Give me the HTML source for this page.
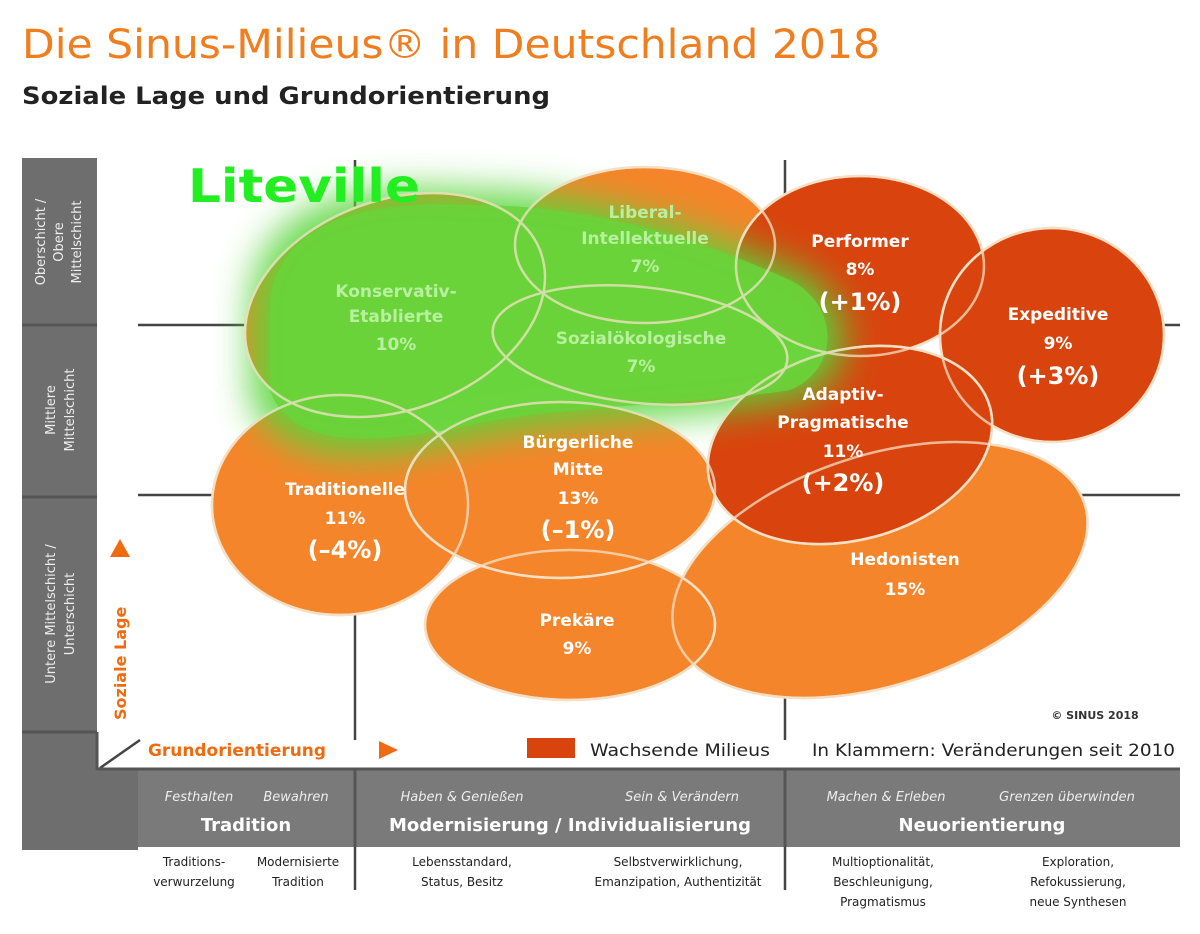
<!DOCTYPE html>
<html><head><meta charset="utf-8"><style>
body{margin:0;background:#fff;width:1200px;height:929px;overflow:hidden}
</style></head><body>
<svg width="1200" height="929" viewBox="0 0 1200 929" xmlns="http://www.w3.org/2000/svg" font-family="DejaVu Sans, Liberation Sans, sans-serif">
<defs>
<filter id="blur" x="-30%" y="-30%" width="160%" height="160%"><feGaussianBlur stdDeviation="18"/></filter>
</defs>
<text x="22" y="58" font-size="40" fill="#f07d1e" textLength="858" lengthAdjust="spacingAndGlyphs">Die Sinus-Milieus® in Deutschland 2018</text>
<text x="22" y="104" font-size="24" font-weight="bold" fill="#222" textLength="528" lengthAdjust="spacingAndGlyphs">Soziale Lage und Grundorientierung</text>

<rect x="22" y="158" width="75" height="692" fill="#6e6e6e"/>
<rect x="22" y="770" width="116" height="80" fill="#6e6e6e"/>
<rect x="138" y="770" width="1042" height="77" fill="#7a7a7a"/>
<g stroke="#555" stroke-width="3"><line x1="22" y1="325" x2="97" y2="325"/><line x1="22" y1="497" x2="97" y2="497"/><line x1="22" y1="732" x2="97" y2="732"/><line x1="355" y1="770" x2="355" y2="847"/><line x1="785" y1="770" x2="785" y2="847"/></g>
<g fill="#eee" font-size="13" text-anchor="middle">
<text transform="translate(45,242) rotate(-90)">Oberschicht /</text>
<text transform="translate(63,242) rotate(-90)">Obere</text>
<text transform="translate(81,242) rotate(-90)">Mittelschicht</text>
<text transform="translate(55,410) rotate(-90)">Mittlere</text>
<text transform="translate(74,410) rotate(-90)">Mittelschicht</text>
<text transform="translate(55,614) rotate(-90)">Untere Mittelschicht /</text>
<text transform="translate(74,614) rotate(-90)">Unterschicht</text>
</g>
<g stroke="#444" stroke-width="2.5">
<line x1="138" y1="325" x2="1180" y2="325"/><line x1="138" y1="495" x2="1180" y2="495"/>
<line x1="355" y1="160" x2="355" y2="740"/><line x1="785" y1="160" x2="785" y2="740"/>
<line x1="355" y1="847" x2="355" y2="890"/><line x1="785" y1="847" x2="785" y2="890"/>
<line x1="100" y1="768" x2="140" y2="740"/>
</g>
<line x1="97" y1="769" x2="1180" y2="769" stroke="#555" stroke-width="3"/>
<line x1="97" y1="732" x2="97" y2="770" stroke="#555" stroke-width="3"/>

<g stroke="#f8dcc0" stroke-width="2.5">
<ellipse cx="880" cy="570" rx="215" ry="115" transform="rotate(-18 880 570)" fill="#f5852a"/>
<ellipse cx="570" cy="625" rx="145" ry="75" fill="#f5852a"/>
<ellipse cx="340" cy="505" rx="128" ry="110" fill="#f5852a"/>
<ellipse cx="560" cy="490" rx="155" ry="88" fill="#f5852a"/>
<ellipse cx="645" cy="245" rx="130" ry="78" fill="#f5852a"/>
<ellipse cx="860" cy="266" rx="124" ry="90" fill="#d9440e"/>
<ellipse cx="1052" cy="335" rx="112" ry="107" fill="#d9440e"/>
<ellipse cx="850" cy="445" rx="145" ry="95" transform="rotate(-15 850 445)" fill="#d9440e"/>
<ellipse cx="640" cy="345" rx="148" ry="58" transform="rotate(6 640 345)" fill="#f5852a"/>
<ellipse cx="395" cy="305" rx="155" ry="105" transform="rotate(-20 395 305)" fill="#f5852a"/>
</g>
<path d="M250 300 C260 200 360 180 470 190 C600 190 700 230 800 270 C860 300 860 380 800 400 C700 420 560 420 470 440 C380 460 280 470 250 400 Z" fill="#59d63a" opacity="0.9" filter="url(#blur)"/>
<path d="M270 300 C280 220 370 200 470 205 C600 205 700 240 790 280 C840 305 840 370 790 390 C700 405 560 405 470 425 C380 445 290 450 270 390 Z" fill="#6ad43a" opacity="0.85"/>
<g fill="none" stroke="#f4e2c8" stroke-width="2.5" opacity="0.75">
<ellipse cx="880" cy="570" rx="215" ry="115" transform="rotate(-18 880 570)"/>
<ellipse cx="570" cy="625" rx="145" ry="75"/>
<ellipse cx="340" cy="505" rx="128" ry="110"/>
<ellipse cx="560" cy="490" rx="155" ry="88"/>
<ellipse cx="645" cy="245" rx="130" ry="78"/>
<ellipse cx="860" cy="266" rx="124" ry="90"/>
<ellipse cx="1052" cy="335" rx="112" ry="107"/>
<ellipse cx="850" cy="445" rx="145" ry="95" transform="rotate(-15 850 445)"/>
<ellipse cx="640" cy="345" rx="148" ry="58" transform="rotate(6 640 345)"/>
<ellipse cx="395" cy="305" rx="155" ry="105" transform="rotate(-20 395 305)"/>
</g>
<text x="188" y="202" font-size="46" font-weight="bold" fill="#22ee22" textLength="232" lengthAdjust="spacingAndGlyphs">Liteville</text>

<g font-weight="bold" text-anchor="middle" font-size="17">
<g fill="#b8f0a0"><text x="396" y="297">Konservativ-</text><text x="396" y="322">Etablierte</text><text x="396" y="350">10%</text>
<text x="645" y="218">Liberal-</text><text x="645" y="244">Intellektuelle</text><text x="645" y="272">7%</text>
<text x="641" y="344">Sozialökologische</text><text x="641" y="372">7%</text></g>
<g fill="#fff"><text x="860" y="247">Performer</text><text x="860" y="275">8%</text><text x="860" y="310" font-size="24">(+1%)</text>
<text x="1058" y="320">Expeditive</text><text x="1058" y="349">9%</text><text x="1058" y="384" font-size="24">(+3%)</text>
<text x="843" y="400">Adaptiv-</text><text x="843" y="428">Pragmatische</text><text x="843" y="457">11%</text><text x="843" y="491" font-size="24">(+2%)</text>
<text x="578" y="448">Bürgerliche</text><text x="578" y="475">Mitte</text><text x="578" y="504">13%</text><text x="578" y="538" font-size="24">(–1%)</text>
<text x="345" y="495">Traditionelle</text><text x="345" y="524">11%</text><text x="345" y="558" font-size="24">(–4%)</text>
<text x="577" y="626">Prekäre</text><text x="577" y="654">9%</text>
<text x="905" y="565">Hedonisten</text><text x="905" y="595">15%</text></g>
</g>
<text x="1095" y="719" font-size="11" font-weight="bold" fill="#333" text-anchor="middle">© SINUS 2018</text>

<polygon points="110,557 130,557 120,539" fill="#f06a10"/>
<text transform="translate(126,720) rotate(-90)" font-size="16" font-weight="bold" fill="#f06a10">Soziale Lage</text>
<text x="148" y="756" font-size="17" font-weight="bold" fill="#f06a10" textLength="178" lengthAdjust="spacingAndGlyphs">Grundorientierung</text>
<polygon points="379,741 379,759 398,750" fill="#f06a10"/>
<rect x="527" y="738" width="48" height="20" fill="#d9440e"/>
<text x="590" y="756" font-size="17" fill="#222" textLength="180" lengthAdjust="spacingAndGlyphs">Wachsende Milieus</text>
<text x="812" y="756" font-size="17" fill="#222" textLength="363" lengthAdjust="spacingAndGlyphs">In Klammern: Veränderungen seit 2010</text>

<g fill="#eee" font-size="13" font-style="italic" text-anchor="middle">
<text x="199" y="801">Festhalten</text><text x="296" y="801">Bewahren</text>
<text x="462" y="801">Haben &amp; Genießen</text><text x="682" y="801">Sein &amp; Verändern</text>
<text x="886" y="801">Machen &amp; Erleben</text><text x="1067" y="801">Grenzen überwinden</text>
</g>
<g fill="#fff" font-size="18" font-weight="bold" text-anchor="middle">
<text x="246" y="831">Tradition</text><text x="570" y="831">Modernisierung / Individualisierung</text><text x="982" y="831">Neuorientierung</text>
</g>
<g fill="#222" font-size="12" text-anchor="middle">
<text x="194" y="866">Traditions-</text><text x="194" y="886">verwurzelung</text>
<text x="298" y="866">Modernisierte</text><text x="298" y="886">Tradition</text>
<text x="462" y="866">Lebensstandard,</text><text x="462" y="886">Status, Besitz</text>
<text x="678" y="866">Selbstverwirklichung,</text><text x="678" y="886">Emanzipation, Authentizität</text>
<text x="883" y="866">Multioptionalität,</text><text x="883" y="886">Beschleunigung,</text><text x="883" y="906">Pragmatismus</text>
<text x="1078" y="866">Exploration,</text><text x="1078" y="886">Refokussierung,</text><text x="1078" y="906">neue Synthesen</text>
</g>
</svg>
</body></html>
